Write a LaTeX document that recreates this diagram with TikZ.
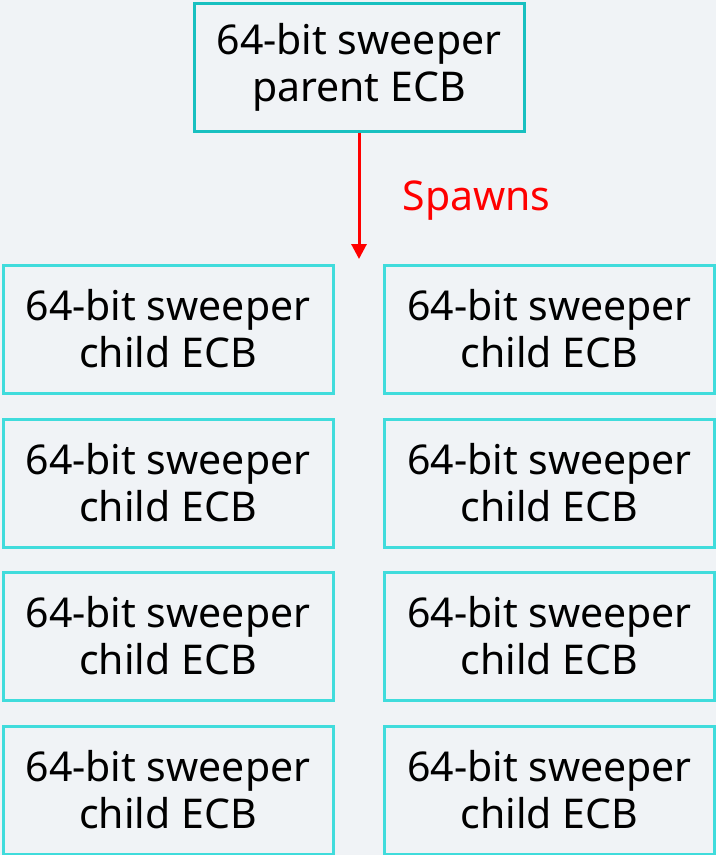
\documentclass[tikz,border=0pt]{standalone}
\usepackage{fontspec}
\setmainfont{Noto Sans}
\usetikzlibrary{arrows.meta}
\definecolor{bgc}{HTML}{F0F3F6}
\definecolor{parentline}{HTML}{18C0C0}
\definecolor{childline}{HTML}{40DCDC}
\definecolor{spawnred}{HTML}{FF0000}
\begin{document}
\begin{tikzpicture}[x=1pt,y=-1pt,
  ecb/.style={draw, line width=3pt, fill=bgc, minimum width=330pt, minimum height=128pt,
    align=center, inner sep=0pt, font=\fontsize{41}{47}\selectfont},
  parentbox/.style={ecb, draw=parentline},
  childbox/.style={ecb, draw=childline},
  spawnarrow/.style={draw=spawnred, line width=3pt, -{Triangle[width=15pt,length=15pt]}}]
  \fill[bgc] (0,0) rectangle (716,855);
  \useasboundingbox (0,0) rectangle (716,855);
  \node[parentbox] (parent) at (359,67) {64-bit sweeper\\parent ECB};
  \foreach \r/\y in {1/329,2/483,3/636,4/790}{
    \node[childbox] (L\r) at (168,\y) {64-bit sweeper\\child ECB};
    \node[childbox] (R\r) at (549.5,\y) {64-bit sweeper\\child ECB};
  }
  \coordinate (tip) at (359,259);
  \draw[spawnarrow] (parent.south) -- (tip);
  \node[text=spawnred, font=\fontsize{41}{44}\selectfont, anchor=west] (spawns) at (399,201) {Spawns};
\end{tikzpicture}
\end{document}
